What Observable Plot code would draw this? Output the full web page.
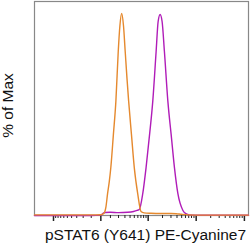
<!DOCTYPE html>
<html>
<head>
<meta charset="utf-8">
<script src="https://cdn.jsdelivr.net/npm/d3@7"></script>
<script src="https://cdn.jsdelivr.net/npm/@observablehq/plot@0.6"></script>
<style>
  html, body { margin: 0; padding: 0; background: #fff; }
</style>
</head>
<body>
<div id="chart"></div>
<script>
// Orange histogram (fluorescence value, % of Max)
const orangeX = [-2500, -700, -105, 0, 30, 51, 69, 88, 105, 134, 165, 196, 220, 246, 275, 305, 337, 370, 431, 500, 595, 703, 817, 1150, 1870, 3030, 3850, 4900, 6850, 12800, 33400, 121600];
const orangeY = [0.3, 0.3, 0.3, 0.4, 1, 4, 10.8, 17, 24, 40, 56.6, 81, 94, 100, 94, 81, 68, 56.6, 40, 23.6, 10.8, 2, 1.3, 1.1, 1.0, 1.0, 0.9, 0.6, 0.3, 0.2, 0.2, 0.2];

// Purple histogram
const purpleX = [-2500, -105, 0, 17, 40, 100, 200, 350, 480, 575, 646, 766, 901, 1070, 1251, 1469, 1620, 1781, 1960, 2192, 2583, 3026, 3547, 4176, 5311, 6221, 7200, 12800, 33400, 121600];
const purpleY = [0, 0, 0.2, 0.8, 1.5, 1.6, 1.4, 1.6, 2, 2.5, 3, 10.8, 23.6, 40, 56.6, 81, 96, 99.5, 96, 81, 56.6, 40, 23.6, 10.8, 2.5, 0.8, 0.3, 0.1, 0.1, 0.1];

// Axis ticks (logicle-like scale)
const majorTicks = [-1000, 0, 1000, 10000, 100000];
const minorTicks = [-900, -800, -700, -600, -500, -400, -300, -200, -100,
  100, 200, 300, 400, 500, 600, 700, 800, 900,
  2000, 3000, 4000, 5000, 6000, 7000, 8000, 9000,
  20000, 30000, 40000, 50000, 60000, 70000, 80000, 90000];
const xExtent = [-2500, 121600];
const yExtent = [0, 105.9];

const xLabel = "pSTAT6 (Y641) PE-Cyanine7";
const yLabel = "% of Max";

const W = 211;
const T = v => Math.asinh(v / W) / Math.LN10;

const orange = orangeX.map((x, i) => ({x, y: orangeY[i]}));
const purple = purpleX.map((x, i) => ({x, y: purpleY[i]}));
const noText = () => "";

const chart = Plot.plot({
  width: 250,
  height: 246,
  marginLeft: 34,
  marginRight: 2,
  marginTop: 1,
  marginBottom: 31,
  style: {fontFamily: "'Liberation Sans', Arial, sans-serif", fontSize: "15.5px", color: "#111", background: "#fff"},
  x: {transform: T, domain: xExtent.map(T)},
  y: {domain: yExtent},
  marks: [
    Plot.frame({stroke: "#888", strokeWidth: 1.2}),
    Plot.axisX({ticks: minorTicks.map(T), tickSize: 3, tickFormat: noText, stroke: "#222", label: null}),
    Plot.axisX({ticks: majorTicks.map(T), tickSize: 6, tickFormat: noText, stroke: "#222", strokeWidth: 1.5, label: null}),
    Plot.axisY({ticks: [], tickSize: 0, label: null}),
    Plot.text([xLabel], {text: d => d, frameAnchor: "bottom", lineAnchor: "middle", dy: 19.5, dx: 4, fontSize: 15.5, fill: "#111"}),
    Plot.text([yLabel], {text: d => d, frameAnchor: "left", textAnchor: "middle", rotate: -90, lineAnchor: "middle", dx: -26, dy: -3, fontSize: 15.5, fill: "#111"}),
    Plot.line(purple, {x: "x", y: "y", stroke: "#B01CB8", strokeWidth: 1.4, curve: "monotone-x"}),
    Plot.line(orange, {x: "x", y: "y", stroke: "#E5892E", strokeWidth: 1.4, curve: "monotone-x"})
  ]
});
document.getElementById("chart").appendChild(chart);
</script>
</body>
</html>
